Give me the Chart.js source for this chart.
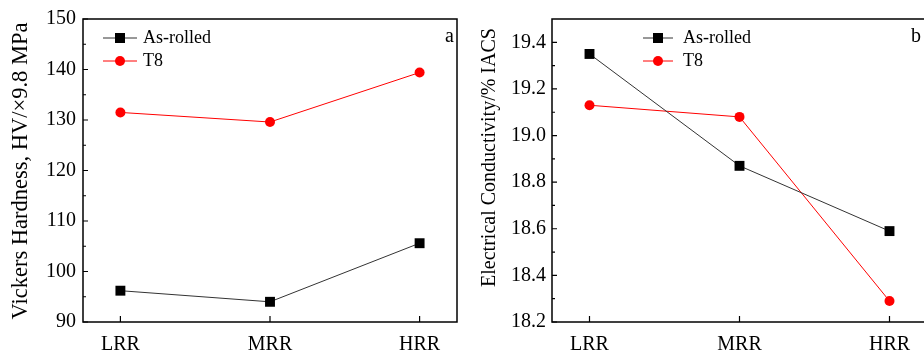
<!DOCTYPE html>
<html lang="en">
<head>
<meta charset="UTF-8">
<title>Hardness and Electrical Conductivity</title>
<script src="https://cdn.jsdelivr.net/npm/chart.js"></script>
<style>
  html, body { margin: 0; padding: 0; background: #fff; overflow: hidden; }
  #wrap { position: relative; width: 924px; height: 354px; overflow: hidden; }
  #hardChart { position: absolute; left: 0; top: 0; }
  #condChart { position: absolute; left: 464px; top: 0; }
</style>
</head>
<body>
<div id="wrap">
  <canvas id="hardChart" width="464" height="354"></canvas>
  <canvas id="condChart" width="470" height="354"></canvas>
</div>
<script>
const categories = ['LRR', 'MRR', 'HRR'];
const hardnessAsRolled = [96.2, 94.0, 105.6];
const hardnessT8 = [131.5, 129.6, 139.4];
const conductAsRolled = [19.35, 18.87, 18.59];
const conductT8 = [19.13, 19.08, 18.29];
const hardnessTicks = [90, 100, 110, 120, 130, 140, 150];
const conductTicks = [18.2, 18.4, 18.6, 18.8, 19.0, 19.2, 19.4];

const SERIF = "'Liberation Serif', 'Times New Roman', serif";

// box, inward ticks, axis title, legend and panel letter
const framePlugin = {
  id: 'frame',
  afterDraw(chart, args, opts) {
    const ctx = chart.ctx;
    const a = chart.chartArea;
    const ys = chart.scales.y;
    const xs = chart.scales.x;
    ctx.save();
    ctx.strokeStyle = '#000';
    ctx.lineWidth = 1.5;
    ctx.strokeRect(a.left, a.top, a.right - a.left, a.bottom - a.top);

    ctx.lineWidth = 1.2;
    ctx.beginPath();
    opts.majors.forEach((v, i) => {
      const y = ys.getPixelForValue(v);
      ctx.moveTo(a.left, y);
      ctx.lineTo(a.left + 5, y);
      const next = i < opts.majors.length - 1 ? opts.majors[i + 1] : v + (v - opts.majors[i - 1]);
      const m = (v + next) / 2;
      if (m < ys.max - 1e-9) {
        const ym = ys.getPixelForValue(m);
        ctx.moveTo(a.left, ym);
        ctx.lineTo(a.left + 3, ym);
      }
    });
    categories.forEach((c, i) => {
      const x = xs.getPixelForValue(i);
      ctx.moveTo(x, a.bottom);
      ctx.lineTo(x, a.bottom - 6);
    });
    ctx.stroke();

    // rotated y title
    const t = opts.title;
    ctx.save();
    ctx.translate(t.x, t.y);
    ctx.rotate(-Math.PI / 2);
    ctx.font = t.size + 'px ' + SERIF;
    ctx.fillStyle = '#000';
    ctx.textAlign = 'center';
    ctx.textBaseline = 'middle';
    ctx.fillText(t.text, 0, 0);
    ctx.restore();

    const lg = opts.legend;
    ctx.font = '18px ' + SERIF;
    ctx.textBaseline = 'middle';
    ctx.textAlign = 'left';
    chart.data.datasets.forEach((ds, i) => {
      const y = lg.rows[i];
      const cx = (lg.x0 + lg.x1) / 2;
      ctx.strokeStyle = ds.borderColor;
      ctx.lineWidth = 1;
      ctx.beginPath();
      ctx.moveTo(lg.x0, y);
      ctx.lineTo(lg.x1, y);
      ctx.stroke();
      ctx.fillStyle = ds.pointBackgroundColor;
      if (ds.pointStyle === 'rect') {
        ctx.fillRect(cx - 5, y - 5, 10, 10);
      } else {
        ctx.beginPath();
        ctx.arc(cx, y, 5, 0, Math.PI * 2);
        ctx.fill();
      }
      ctx.fillStyle = '#000';
      ctx.fillText(ds.label, lg.textX, y);
    });

    ctx.font = '20px ' + SERIF;
    ctx.textAlign = 'right';
    ctx.fillText(opts.letter.text, opts.letter.x, opts.letter.y);
    ctx.restore();
  }
};

function makeChart(id, cfg) {
  const toPoints = arr => arr.map((v, i) => ({ x: i, y: v }));
  return new Chart(document.getElementById(id), {
    type: 'line',
    data: {
      datasets: [
        {
          label: 'As-rolled',
          data: toPoints(cfg.asRolled),
          borderColor: '#333333',
          borderWidth: 1,
          pointStyle: 'rect',
          pointRadius: 7,
          pointBackgroundColor: '#000',
          pointBorderWidth: 0,
          tension: 0
        },
        {
          label: 'T8',
          data: toPoints(cfg.t8),
          borderColor: '#ff0000',
          borderWidth: 1,
          pointStyle: 'circle',
          pointRadius: 5,
          pointBackgroundColor: '#ff0000',
          pointBorderWidth: 0,
          tension: 0
        }
      ]
    },
    options: {
      responsive: false,
      animation: false,
      layout: { padding: cfg.padding },
      plugins: {
        legend: { display: false },
        tooltip: { enabled: false },
        frame: { majors: cfg.majors, legend: cfg.legend, letter: cfg.letter, title: cfg.title }
      },
      scales: {
        x: {
          type: 'linear',
          min: -0.25,
          max: 2.25,
          grid: { display: false, drawTicks: false },
          border: { display: false },
          afterBuildTicks: s => { s.ticks = categories.map((c, i) => ({ value: i })); },
          afterFit: s => { s.height = 32; },
          ticks: {
            padding: 11,
            color: '#000',
            font: { family: SERIF, size: 20 },
            callback: v => categories[v]
          }
        },
        y: {
          min: cfg.min,
          max: cfg.max,
          grid: { display: false, drawTicks: false },
          border: { display: false },
          afterBuildTicks: s => { s.ticks = cfg.majors.map(v => ({ value: v })); },
          afterFit: s => { s.width = cfg.axisWidth; },
          ticks: {
            padding: cfg.tickPad,
            color: '#000',
            font: { family: SERIF, size: 20 },
            callback: cfg.fmt
          }
        }
      }
    },
    plugins: [framePlugin]
  });
}

makeChart('hardChart', {
  asRolled: hardnessAsRolled,
  t8: hardnessT8,
  majors: hardnessTicks,
  min: 90,
  max: 150,
  fmt: v => String(v),
  title: { text: 'Vickers Hardness, HV/×9.8 MPa', size: 22.5, x: 21.5, y: 171 },
  axisWidth: 83,
  tickPad: 7,
  padding: { top: 18, right: 3, left: 0, bottom: 0 },
  legend: { x0: 103, x1: 137, textX: 143, rows: [38, 61] },
  letter: { text: 'a', x: 454, y: 37 }
});

makeChart('condChart', {
  asRolled: conductAsRolled,
  t8: conductT8,
  majors: conductTicks,
  min: 18.2,
  max: 19.5,
  fmt: v => v.toFixed(1),
  title: { text: 'Electrical Conductivity/% IACS', size: 20, x: 26, y: 157.5 },
  axisWidth: 88,
  tickPad: 6,
  padding: { top: 19, right: 6, left: 0, bottom: 0 },
  legend: { x0: 179, x1: 209, textX: 219, rows: [38, 61] },
  letter: { text: 'b', x: 457, y: 37 }
});
</script>
</body>
</html>
